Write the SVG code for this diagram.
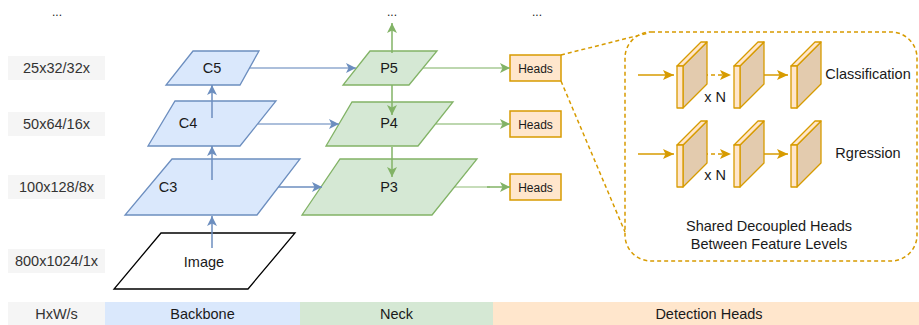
<svg xmlns="http://www.w3.org/2000/svg" width="919" height="325" viewBox="0 0 919 325">
<style>
text{font-family:"Liberation Sans",Arial,sans-serif;fill:#1a1a1a;text-anchor:middle;dominant-baseline:central;font-size:14.5px}
.lbl{fill:#f5f5f5}
.lt{fill:#333}
.blue{fill:#dae8fc;stroke:#6c8ebf;stroke-width:1.3}
.green{fill:#d5e8d4;stroke:#82b366;stroke-width:1.3}
.heads{fill:#ffe6cc;stroke:#d79b00;stroke-width:1.5}
.ba{stroke:#6c8ebf;stroke-width:1.5;fill:none;marker-end:url(#ab)}
.ga{stroke:#82b366;stroke-width:1.5;fill:none;marker-end:url(#ag)}
.oa{stroke:#d79b00;stroke-width:1.5;fill:none;marker-end:url(#ao)}
.dash{stroke:#d79b00;stroke-width:1.5;fill:none;stroke-dasharray:4 3}
.pf{fill:#ffe6cc;stroke:#d79b00;stroke-width:1.3;stroke-linejoin:round}
.ps{fill:#e3cbae;stroke:#d79b00;stroke-width:1.3;stroke-linejoin:round}
.small{font-size:12px}
</style>
<defs>
<marker id="ab" markerUnits="userSpaceOnUse" markerWidth="11" markerHeight="10" refX="10" refY="5" orient="auto"><path d="M0,0 L10,5 L0,10 L2.5,5 Z" fill="#6c8ebf"/></marker>
<marker id="ag" markerUnits="userSpaceOnUse" markerWidth="11" markerHeight="10" refX="10" refY="5" orient="auto"><path d="M0,0 L10,5 L0,10 L2.5,5 Z" fill="#82b366"/></marker>
<marker id="ao" markerUnits="userSpaceOnUse" markerWidth="12" markerHeight="10" refX="11" refY="5" orient="auto"><path d="M0,0 L11,5 L0,10 L2.5,5 Z" fill="#d79b00"/></marker>
</defs>

<g id="dots">
<text x="57" y="12" class="small">...</text>
<text x="392" y="12" class="small">...</text>
<text x="537" y="12" class="small">...</text>
</g>

<g id="scale-labels">
<rect class="lbl" x="8" y="56" width="97" height="24"/><text class="lt" x="56.5" y="68">25x32/32x</text>
<rect class="lbl" x="8" y="112" width="97" height="24"/><text class="lt" x="56.5" y="124">50x64/16x</text>
<rect class="lbl" x="8" y="175" width="97" height="24"/><text class="lt" x="56.5" y="187">100x128/8x</text>
<rect class="lbl" x="8" y="249" width="97" height="24"/><text class="lt" x="56.5" y="261">800x1024/1x</text>
</g>

<g id="image">
<polygon points="161,233 295,233 248,289 114,289" fill="#ffffff" stroke="#000000" stroke-width="1.3"/>
<text x="204" y="262">Image</text>
</g>
<g id="c3">
<polygon class="blue" points="172,159 300,159 257,215 125,215"/>
<text x="168" y="187">C3</text>
</g>
<g id="c4">
<polygon class="blue" points="175,101 276,101 240,146 148,146"/>
<text x="188" y="123">C4</text>
</g>
<g id="c5">
<polygon class="blue" points="193,51 259,51 240,85 166,85"/>
<text x="212" y="68">C5</text>
</g>

<g id="p3">
<polygon class="green" points="340,159 477,159 432,215 302,215"/>
<text x="389" y="187">P3</text>
</g>
<g id="p4">
<polygon class="green" points="352,102 453,102 418,146 326,146"/>
<text x="389" y="123">P4</text>
</g>
<g id="p5">
<polygon class="green" points="370,51 437,51 409,85 343,85"/>
<text x="389" y="68">P5</text>
</g>

<g id="heads1"><rect class="heads" x="510" y="55" width="51" height="26"/><text class="small" x="535.5" y="69">Heads</text></g>
<g id="heads2"><rect class="heads" x="510" y="111" width="51" height="26"/><text class="small" x="535.5" y="125">Heads</text></g>
<g id="heads3"><rect class="heads" x="510" y="174" width="51" height="26"/><text class="small" x="535.5" y="188">Heads</text></g>

<g id="connectors">
<line class="ba" x1="212" y1="248" x2="212" y2="216"/>
<line class="ba" x1="212" y1="180" x2="212" y2="146"/>
<line class="ba" x1="212" y1="118" x2="212" y2="85"/>
<line class="ba" x1="249" y1="68" x2="356" y2="68" stroke-opacity="0.75"/>
<line class="ba" x1="258" y1="124" x2="339" y2="124" stroke-opacity="0.75"/>
<line class="ba" x1="278" y1="187" x2="322" y2="187" stroke-width="2"/>
<line class="ga" x1="392" y1="53" x2="392" y2="23"/>
<line class="ga" x1="392" y1="85" x2="392" y2="115"/>
<line class="ga" x1="392" y1="147" x2="392" y2="177"/>
<line class="ga" x1="423" y1="68" x2="510" y2="68" stroke-opacity="0.7"/>
<line class="ga" x1="436" y1="124" x2="510" y2="124" stroke-opacity="0.7"/>
<line x1="454" y1="187" x2="490" y2="187" stroke="#82b366" stroke-width="1.5" stroke-opacity="0.6"/>
<line class="ga" x1="487" y1="187" x2="510" y2="187" stroke-width="2"/>
<line class="dash" x1="561" y1="55" x2="648" y2="33"/>
<line class="dash" x1="561" y1="81" x2="625" y2="232"/>
</g>

<g id="decoupled-heads">
<rect class="dash" x="625" y="32" width="292" height="229" rx="26" ry="26"/>
<line class="oa" x1="638" y1="75" x2="674" y2="75"/>
<line class="oa" x1="697" y1="75" x2="731" y2="75" stroke-dasharray="4 3"/>
<line class="oa" x1="753" y1="75" x2="788" y2="75"/>
<line class="oa" x1="638" y1="154" x2="674" y2="154"/>
<line class="oa" x1="697" y1="154" x2="731" y2="154" stroke-dasharray="4 3"/>
<line class="oa" x1="753" y1="154" x2="788" y2="154"/>
<g id="cls-plate1"><polygon class="ps" points="683,66 707,42 707,84 683,108"/><polygon class="pf" points="677,66 683,66 707,42 701,42"/><rect class="pf" x="677" y="66" width="6" height="42"/></g>
<g id="cls-plate2"><polygon class="ps" points="740,66 764,42 764,84 740,108"/><polygon class="pf" points="734,66 740,66 764,42 758,42"/><rect class="pf" x="734" y="66" width="6" height="42"/></g>
<g id="cls-plate3"><polygon class="ps" points="797,66 821,42 821,84 797,108"/><polygon class="pf" points="791,66 797,66 821,42 815,42"/><rect class="pf" x="791" y="66" width="6" height="42"/></g>
<g id="reg-plate1"><polygon class="ps" points="683,145 707,121 707,163 683,187"/><polygon class="pf" points="677,145 683,145 707,121 701,121"/><rect class="pf" x="677" y="145" width="6" height="42"/></g>
<g id="reg-plate2"><polygon class="ps" points="740,145 764,121 764,163 740,187"/><polygon class="pf" points="734,145 740,145 764,121 758,121"/><rect class="pf" x="734" y="145" width="6" height="42"/></g>
<g id="reg-plate3"><polygon class="ps" points="797,145 821,121 821,163 797,187"/><polygon class="pf" points="791,145 797,145 821,121 815,121"/><rect class="pf" x="791" y="145" width="6" height="42"/></g>
<text x="715" y="97">x N</text>
<text x="715" y="175">x N</text>
<text x="868" y="74">Classification</text>
<text x="868" y="153">Rgression</text>
<text x="769" y="226">Shared Decoupled Heads</text>
<text x="769" y="244">Between Feature Levels</text>
</g>

<g id="legend-bar">
<rect x="8" y="302" width="97" height="23" fill="#f5f5f5"/><text class="lt" x="56.5" y="313.5">HxW/s</text>
<rect x="105" y="302" width="195" height="23" fill="#dae8fc"/><text x="202.5" y="313.5">Backbone</text>
<rect x="300" y="302" width="193" height="23" fill="#d5e8d4"/><text x="396.5" y="313.5">Neck</text>
<rect x="493" y="302" width="426" height="23" fill="#ffe6cc"/><text x="709" y="313.5">Detection Heads</text>
</g>
</svg>
